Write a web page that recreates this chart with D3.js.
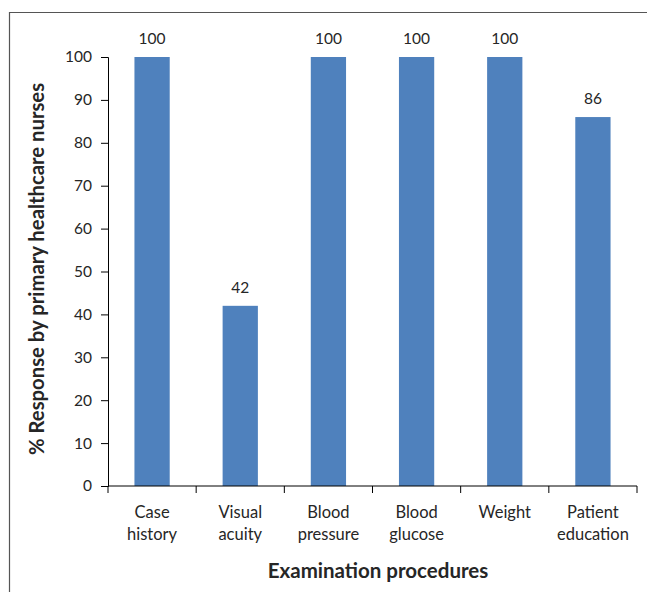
<!DOCTYPE html>
<html>
<head>
<meta charset="utf-8">
<script src="https://cdn.jsdelivr.net/npm/d3@7/dist/d3.min.js"></script>
<style>
  html, body { margin: 0; padding: 0; background: #fff; }
  svg { display: block; }
  text { font-family: Lato, "Open Sans", sans-serif; fill: #262626; }
</style>
</head>
<body>
<svg id="chart" width="647" height="592"></svg>
<script>
// Examination procedures performed by primary healthcare nurses
const categories = [["Case", "history"], ["Visual", "acuity"], ["Blood", "pressure"], ["Blood", "glucose"], ["Weight"], ["Patient", "education"]];
const values = [100, 42, 100, 100, 100, 86];
const yTicks = [0, 10, 20, 30, 40, 50, 60, 70, 80, 90, 100];

const svg = d3.select("#chart");
const W = 647, H = 592;
const plot = { left: 108, right: 637, top: 57, bottom: 486 };

// frame lines (left and top)
svg.append("path")
  .attr("d", `M9.5,${H} V12.5 H${W}`)
  .attr("fill", "none").attr("stroke", "#555").attr("stroke-width", 1.2);

const keys = categories.map((c, i) => i);
const x = d3.scaleBand().domain(keys).range([plot.left, plot.right]).paddingInner(0.6).paddingOuter(0.3);
const y = d3.scaleLinear().domain([0, 100]).range([plot.bottom, plot.top]);

// bars
svg.append("g").selectAll("rect").data(values).join("rect")
  .attr("x", (d, i) => x(i))
  .attr("y", d => y(d))
  .attr("width", x.bandwidth())
  .attr("height", d => y(0) - y(d))
  .attr("fill", "#4f81bd");

// value labels
svg.append("g").selectAll("text").data(values).join("text")
  .attr("x", (d, i) => x(i) + x.bandwidth() / 2)
  .attr("y", d => y(d) - 13)
  .attr("text-anchor", "middle")
  .attr("font-size", 15.5)
  .text(d => d);

// y axis
const yAxis = svg.append("g")
  .attr("transform", `translate(${plot.left},0)`)
  .call(d3.axisLeft(y).tickValues(yTicks).tickSize(7).tickPadding(9));
yAxis.select(".domain").attr("stroke", "#000");
yAxis.selectAll(".tick line").attr("stroke", "#000");
yAxis.selectAll("text").attr("font-size", 15.5).attr("font-family", "Lato, sans-serif").attr("fill", "#262626");

// x axis with boundary ticks between categories
const xEdges = d3.range(categories.length + 1).map(i => plot.left + i * (plot.right - plot.left) / categories.length);
const xAxis = svg.append("g").attr("transform", `translate(0,${plot.bottom})`);
xAxis.append("line").attr("x1", plot.left).attr("x2", plot.right)
  .attr("stroke", "#000");
xAxis.selectAll("line.tk").data(xEdges).join("line").attr("class", "tk")
  .attr("x1", d => d).attr("x2", d => d).attr("y1", 0).attr("y2", 7)
  .attr("stroke", "#000");

// category labels
const catG = svg.append("g").selectAll("text").data(categories).join("text")
  .attr("text-anchor", "middle")
  .attr("font-size", 16.5)
  .attr("x", (d, i) => x(i) + x.bandwidth() / 2)
  .attr("y", plot.bottom + 32);
catG.selectAll("tspan").data(d => d).join("tspan")
  .attr("x", function() { return this.parentNode.getAttribute("x"); })
  .attr("dy", (d, j) => j === 0 ? 0 : 22)
  .text(d => d);

// axis titles
svg.append("text")
  .attr("x", 378)
  .attr("y", 578)
  .attr("text-anchor", "middle")
  .attr("font-size", 20.5).attr("font-weight", "bold")
  .text("Examination procedures");

svg.append("text")
  .attr("transform", `translate(44,269) rotate(-90)`)
  .attr("text-anchor", "middle")
  .attr("font-size", 20.3).attr("font-weight", "bold")
  .text("% Response by primary healthcare nurses");
</script>
</body>
</html>
